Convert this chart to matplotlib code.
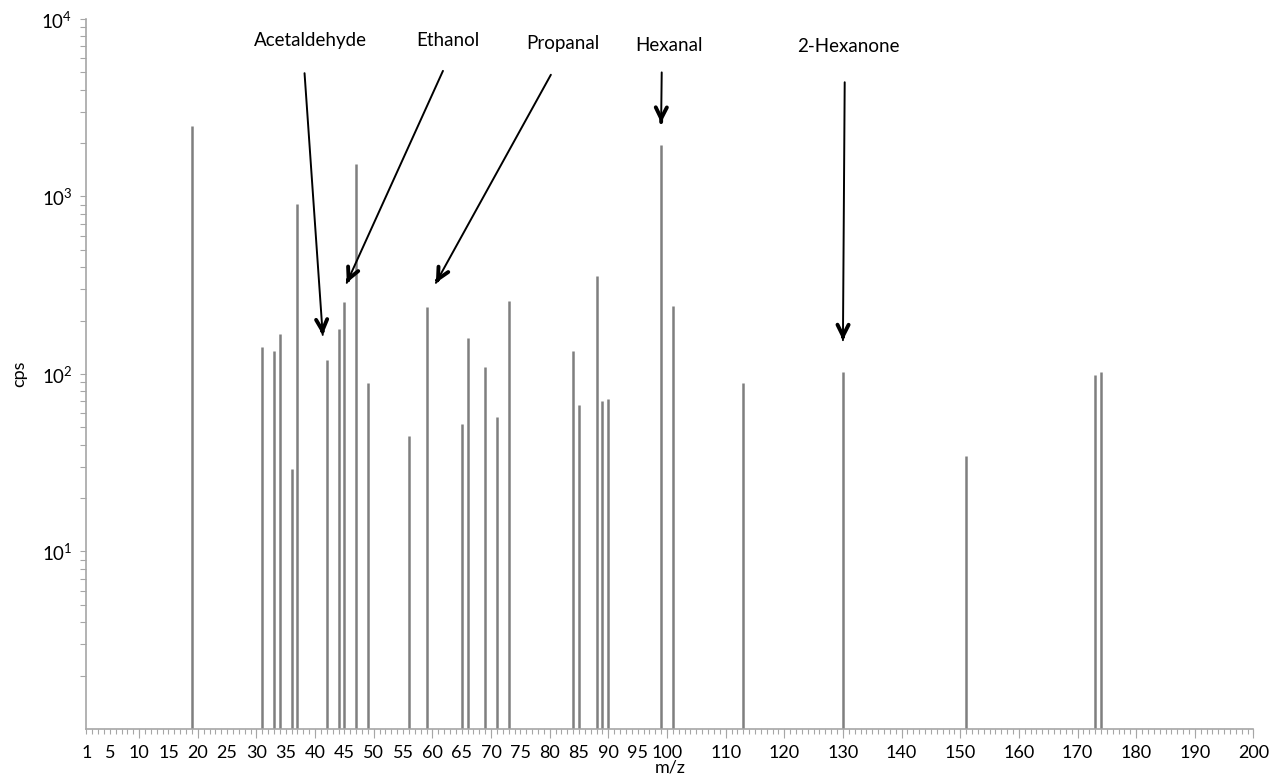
import matplotlib.pyplot as plt
import numpy as np

plt.rcParams['font.family'] = ['Lato', 'DejaVu Sans']
plt.rcParams['mathtext.fontset'] = 'custom'
plt.rcParams['mathtext.rm'] = 'Lato'

# m/z peaks and their counts per second
mz = [19, 31, 33, 34, 36, 37, 42, 44, 45, 47, 49, 56, 59, 65, 66, 69, 71, 73,
      84, 85, 88, 89, 90, 99, 101, 113, 130, 151, 173, 174]
cps = [2500, 141, 135, 167, 29, 904, 120, 179, 255, 1525, 89, 45, 238, 52, 159,
       110, 57, 257, 134, 67, 355, 70, 72, 1950, 241, 89, 103, 34.5, 99, 102]

# compound labels: text position, arrow start, arrow tip (m/z, cps)
names = ["Acetaldehyde", "Ethanol", "Propanal", "Hexanal", "2-Hexanone"]
label_pos = [(39.2, 7600), (62.7, 7600), (82.3, 7300), (100.3, 7100), (131.0, 7000)]
arrow_from = [(38.2, 4950), (61.8, 5100), (80.2, 4850), (99.1, 5000), (130.3, 4400)]
arrow_to = [(41.3, 166), (45.4, 326), (60.6, 326), (99.0, 2600), (130.0, 155)]

xtick_vals = [1] + list(range(5, 101, 5)) + list(range(110, 201, 10))

axis_col = '#a6a6a6'

fig = plt.figure(figsize=(12.7, 7.84), dpi=100)
ax = fig.add_axes([0.068, 0.0702, 0.919, 0.9056])

ax.vlines(mz, 1, cps, color='#7f7f7f', linewidth=1.8)

ax.set_yscale('log')
ax.set_ylim(1, 1e4)
ax.set_xlim(1, 200)

ax.set_yticks([10, 100, 1000, 10000])
ax.set_yticklabels([r'$10^{1}$', r'$10^{2}$', r'$10^{3}$', r'$10^{4}$'])
ax.yaxis.set_minor_locator(plt.matplotlib.ticker.LogLocator(base=10, subs=np.arange(2, 10)))
ax.yaxis.set_minor_formatter(plt.NullFormatter())

ax.set_xticks(xtick_vals)
ax.set_xticklabels([str(v) for v in xtick_vals])
ax.set_xticks(range(1, 201), minor=True)

ax.tick_params(axis='x', which='both', direction='out', length=3.5, width=0.8,
               color=axis_col, labelsize=13, pad=8)
ax.tick_params(axis='y', which='both', direction='out', length=4, width=0.8,
               color=axis_col, labelsize=13.5, pad=6)

# longer marks every 10 units
sec = ax.secondary_xaxis('bottom')
sec.set_xticks(range(10, 201, 10))
sec.tick_params(length=6.5, width=0.8, color=axis_col, labelbottom=False)
sec.spines['bottom'].set_visible(False)

for s in ['top', 'right']:
    ax.spines[s].set_visible(False)
for s in ['left', 'bottom']:
    ax.spines[s].set_color(axis_col)
    ax.spines[s].set_linewidth(1.2)

ax.set_xlabel('m/z', fontsize=13, labelpad=-1)
ax.set_ylabel('cps', fontsize=13, labelpad=10)

for name, p, a, b in zip(names, label_pos, arrow_from, arrow_to):
    ax.text(p[0], p[1], name, fontsize=13.5, ha='center', va='center')
    # thin shaft
    ax.annotate('', xy=b, xytext=a,
                arrowprops=dict(arrowstyle='-', color='black', lw=1.4,
                                shrinkA=0, shrinkB=0))
    # bold head, drawn on a tiny piece at the tip
    hx = a[0] + 0.985 * (b[0] - a[0])
    hy = 10 ** (np.log10(a[1]) + 0.985 * (np.log10(b[1]) - np.log10(a[1])))
    ax.annotate('', xy=b, xytext=(hx, hy),
                arrowprops=dict(arrowstyle='->', color='black', lw=2.8,
                                mutation_scale=20, shrinkA=0, shrinkB=0))

fig.savefig('out.png', dpi=100, facecolor='white')
